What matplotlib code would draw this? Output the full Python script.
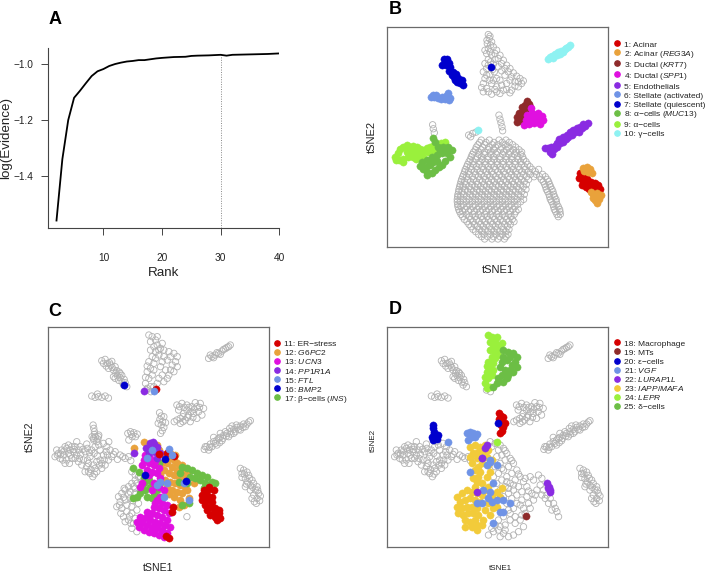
import numpy as np
import matplotlib
matplotlib.use("Agg")
import matplotlib.pyplot as plt
from matplotlib.lines import Line2D

plt.rcParams['font.family'] = ['Liberation Sans', 'DejaVu Sans']
plt.rcParams['mathtext.fontset'] = 'custom'
plt.rcParams['mathtext.rm'] = 'Liberation Sans'
plt.rcParams['mathtext.it'] = 'Liberation Sans:italic'
plt.rcParams['mathtext.bf'] = 'Liberation Sans:bold'

# ---------------- Panel A data ----------------
rank = [2, 3, 4, 5, 6, 7, 8, 9, 10, 11, 12, 13, 14, 15, 16, 17, 18, 19, 20,
        22, 24, 25, 26, 28, 30, 31, 32, 34, 36, 38, 40]
log_evidence = [-1.56, -1.34, -1.20, -1.12, -1.095, -1.068, -1.042, -1.025, -1.017,
                -1.006, -0.999, -0.994, -0.990, -0.988, -0.985, -0.985, -0.982,
                -0.979, -0.977, -0.974, -0.973, -0.970, -0.969, -0.968, -0.966,
                -0.969, -0.966, -0.965, -0.964, -0.963, -0.961]
chosen_rank = 30

# ---------------- Panel B data (tSNE, arbitrary units) ----------------
b_acinar = [(690, 520), (700, 528), (688, 535), (698, 545), (710, 550), (722, 545), (735, 550),
            (745, 556), (750, 566), (742, 576), (730, 578), (718, 568), (708, 560), (700, 516),
            (725, 560), (738, 565), (695, 555), (712, 538)]
b_acinar_reg3a = [(698, 503), (710, 502), (720, 508), (726, 520), (714, 516), (703, 512), (728, 582),
                  (740, 580), (752, 586), (746, 596), (735, 600), (740, 610), (728, 594), (722, 575)]
b_ductal_krt7 = [(530, 302), (538, 312), (525, 315), (515, 322), (522, 333), (508, 340), (502, 352),
                 (500, 365), (512, 350), (528, 328), (540, 322), (515, 362)]
b_ductal_spp1 = [(542, 325), (545, 340), (555, 345), (565, 340), (575, 348), (580, 360), (567, 365),
                 (552, 370), (537, 373), (522, 375), (527, 360), (540, 356), (556, 357), (570, 372),
                 (532, 345), (562, 352)]
b_endothelial = [(715, 370), (705, 378), (695, 385), (688, 395), (675, 396), (665, 404), (655, 410),
                 (648, 418), (638, 410), (628, 418), (622, 430), (614, 438), (604, 440), (594, 444),
                 (584, 443), (600, 455), (606, 462), (620, 440), (640, 425), (660, 396), (680, 384),
                 (700, 372), (630, 428), (650, 405), (670, 390), (690, 380), (612, 448)]
b_stellate_act = [(242, 290), (252, 292), (264, 293), (276, 292), (288, 287), (294, 279), (300, 294),
                  (286, 297), (272, 297), (258, 286), (248, 284), (296, 300)]
b_stellate_qui = [(282, 177), (292, 176), (276, 193), (289, 195), (300, 200), (296, 213), (309, 214),
                  (319, 220), (311, 230), (324, 234), (335, 240), (321, 246), (340, 255), (330, 250),
                  (285, 186), (305, 225), (298, 188), (315, 240), (422, 200)]
b_alpha_muc13 = [(250, 415), (256, 425), (265, 440), (280, 440), (295, 440), (306, 450), (291, 460),
                 (276, 460), (261, 466), (246, 472), (231, 480), (216, 487), (210, 497), (220, 506),
                 (231, 515), (245, 520), (255, 511), (266, 501), (276, 494), (286, 482), (300, 470),
                 (240, 496), (250, 486), (232, 525), (262, 482), (228, 500), (270, 452), (285, 450)]
b_alpha = [(135, 470), (145, 460), (150, 447), (160, 440), (170, 436), (180, 440), (190, 437),
           (200, 441), (210, 446), (220, 450), (230, 445), (240, 440), (250, 438), (260, 432),
           (272, 430), (284, 426), (146, 480), (160, 476), (175, 471), (190, 470), (205, 466),
           (220, 470), (170, 455), (185, 455), (200, 456), (215, 457), (235, 455), (250, 450),
           (138, 480), (158, 487), (198, 478)]
b_gamma = [(595, 176), (605, 168), (614, 160), (624, 156), (634, 151), (644, 146), (653, 140),
           (660, 135), (610, 173), (630, 160), (648, 142), (620, 165), (600, 170), (640, 155),
           (383, 390)]
b_gray_top = [(415, 103), (418, 115), (425, 125), (412, 130), (430, 140), (415, 145), (440, 150),
              (410, 160), (425, 165), (450, 165), (415, 178), (435, 178), (460, 180), (405, 190),
              (430, 192), (470, 195), (445, 200), (410, 205), (480, 205), (455, 212), (400, 215),
              (490, 218), (420, 222), (465, 225), (500, 228), (405, 235), (440, 235), (510, 235),
              (480, 240), (400, 250), (425, 250), (515, 250), (455, 255), (495, 258), (410, 265),
              (435, 268), (470, 268), (400, 275), (485, 270), (450, 280), (425, 282), (505, 245),
              (520, 242), (395, 262), (428, 208), (418, 240),
              (420, 108), (411, 120), (422, 135), (405, 150), (420, 155), (435, 160), (445, 175),
              (455, 190), (422, 185), (465, 205), (415, 195), (475, 215), (433, 215), (410, 225),
              (485, 230), (450, 240), (495, 245), (430, 240), (470, 250), (440, 260), (505, 260),
              (460, 270), (415, 275), (480, 278), (440, 275)]
b_gray_small = [(248, 374), (250, 386), (253, 398), (447, 345), (450, 357), (453, 368), (456, 380),
                (458, 392), (356, 405), (368, 400), (378, 396), (362, 410)]
b_gray_blob_rows = [
    (420, [394, 418, 447, 468]),
    (427, [389, 408, 432, 457, 478]),
    (434, [384, 404, 427, 444, 466, 488]),
    (441, [379, 398, 417, 436, 455, 476, 497]),
    (449, [376, 393, 415, 431, 452, 469, 490, 507]),
    (456, [371, 385, 404, 421, 442, 461, 480, 499, 515]),
    (463, [367, 387, 403, 423, 439, 459, 477, 493, 513]),
    (470, [364, 382, 395, 415, 431, 450, 468, 486, 503, 518]),
    (478, [361, 377, 397, 413, 433, 449, 469, 485, 505, 521]),
    (485, [357, 369, 390, 405, 424, 441, 460, 477, 496, 512, 528]),
    (493, [353, 371, 387, 407, 423, 443, 459, 479, 495, 515, 533]),
    (500, [350, 362, 380, 396, 415, 432, 451, 468, 487, 505, 524, 540]),
    (508, [346, 365, 381, 401, 417, 437, 453, 473, 489, 509, 525, 547, 566]),
    (515, [344, 356, 373, 390, 409, 425, 444, 461, 481, 497, 516, 535, 556]),
    (523, [341, 357, 377, 393, 413, 429, 449, 465, 485, 501, 521, 541, 559, 578]),
    (530, [338, 350, 367, 385, 402, 420, 437, 456, 474, 493, 510, 530, 552, 569, 586]),
    (538, [335, 354, 370, 390, 406, 426, 442, 462, 478, 498, 514, 536, 574, 592]),
    (545, [333, 344, 362, 379, 397, 415, 432, 451, 468, 487, 504, 523, 580, 596]),
    (553, [331, 347, 367, 383, 403, 419, 439, 455, 475, 491, 511, 529, 584, 599]),
    (560, [329, 339, 357, 375, 392, 410, 428, 446, 463, 482, 500, 520, 587, 602]),
    (568, [327, 346, 362, 382, 398, 418, 434, 454, 470, 490, 506, 528, 589, 606]),
    (575, [326, 336, 353, 371, 389, 406, 424, 442, 460, 478, 496, 515, 593, 609]),
    (583, [324, 341, 361, 377, 397, 413, 433, 449, 469, 485, 505, 523, 597, 611]),
    (590, [323, 332, 350, 368, 386, 404, 421, 440, 457, 476, 493, 512, 599, 614]),
    (598, [322, 341, 357, 377, 393, 413, 429, 449, 465, 485, 501, 521, 601, 618]),
    (605, [322, 331, 349, 367, 385, 403, 421, 439, 457, 475, 493, 512, 605, 619]),
    (613, [323, 339, 359, 375, 395, 411, 431, 447, 467, 483, 503, 609, 621]),
    (620, [324, 333, 351, 369, 387, 405, 423, 441, 459, 477, 495, 611, 625]),
    (628, [326, 345, 361, 381, 397, 417, 433, 453, 469, 489, 505, 613, 629]),
    (635, [329, 338, 356, 373, 390, 409, 426, 445, 462, 481, 498, 617, 630]),
    (643, [333, 349, 369, 385, 405, 421, 441, 457, 477, 493, 621, 631]),
    (650, [338, 358, 375, 394, 411, 429, 447, 465, 483, 625]),
    (658, [343, 363, 379, 399, 415, 435, 451, 471, 487]),
    (665, [351, 369, 387, 405, 422, 441, 459, 477, 492]),
    (673, [357, 373, 393, 409, 429, 445, 465, 481]),
    (680, [363, 382, 399, 418, 436, 455, 472]),
    (688, [369, 389, 405, 425, 441, 461, 477]),
    (695, [377, 396, 414, 432, 450, 468]),
    (703, [386, 402, 422, 438, 458, 474]),
    (710, [395, 413, 431, 450, 468]),
    (717, [404, 426, 444, 463]),
]

# ---------------- Panels C/D shared embedding (tSNE, arbitrary units) ----------------
cd_gray_topright = [(625, 205), (635, 200), (645, 195), (655, 190), (665, 183), (675, 176), (685, 170),
                    (690, 165), (630, 195), (650, 188), (670, 178), (640, 203), (660, 193), (680, 172)]
cd_gray_topleft = [(305, 212), (315, 208), (322, 220), (332, 225), (325, 235), (340, 240), (347, 250),
                   (352, 257), (360, 263), (356, 271), (366, 276), (370, 285), (380, 290), (335, 214),
                   (345, 230), (360, 250), (318, 228), (372, 268), (340, 260), (440, 300), (452, 305),
                   (310, 220), (328, 218), (336, 232), (350, 242), (357, 246), (365, 256), (375, 278),
                   (345, 265)]
cd_gray_small = [(275, 318), (285, 322), (295, 320), (305, 322), (315, 318), (325, 324), (292, 312)]
cd_gray_mid = [(530, 345), (545, 340), (560, 345), (575, 350), (590, 350), (600, 340), (610, 355),
               (595, 365), (580, 370), (565, 375), (550, 370), (540, 385), (555, 390), (570, 395),
               (590, 385), (605, 375), (535, 360), (540, 400), (522, 395), (560, 360), (585, 338),
               (572, 365), (538, 350), (552, 352), (566, 352), (582, 358), (598, 352), (548, 380),
               (562, 382), (578, 382), (548, 395), (530, 390)]
cd_gray_band = [(620, 470), (630, 462), (640, 455), (650, 450), (660, 442), (670, 436), (680, 430),
                (690, 425), (700, 418), (710, 412), (720, 408), (730, 402), (745, 396), (640, 442),
                (660, 430), (685, 440), (700, 430), (720, 420), (735, 410), (625, 480), (650, 465),
                (675, 425), (695, 408), (612, 478), (740, 402), (665, 452),
                (615, 470), (628, 472), (645, 460), (655, 445), (668, 445), (678, 438), (692, 432),
                (705, 425), (715, 418), (728, 412), (750, 392), (688, 415), (708, 405), (635, 470),
                (658, 458)]
cd_gray_rightbottom = [(720, 535), (730, 540), (740, 546), (725, 550), (745, 556), (735, 566), (742, 576),
                       (750, 586), (760, 580), (770, 590), (765, 600), (775, 610), (760, 615), (770, 625),
                       (778, 632), (750, 600), (725, 562), (735, 590), (755, 570), (768, 640),
                       (732, 552), (748, 565), (738, 582), (757, 592), (772, 600), (780, 618), (755, 625),
                       (762, 635)]
cd_gray_left = [(165, 500), (175, 490), (185, 480), (195, 470), (205, 465), (215, 470), (190, 495),
                (205, 490), (220, 485), (230, 495), (215, 505), (200, 510), (235, 515), (250, 510),
                (245, 525), (260, 530), (255, 545), (270, 550), (265, 520), (280, 525), (290, 515),
                (300, 510), (310, 495), (300, 480), (285, 470), (275, 480), (290, 455), (280, 445),
                (295, 440), (310, 460), (320, 470), (330, 480), (335, 500), (325, 510), (315, 525),
                (345, 485), (360, 495), (375, 505), (385, 500), (240, 470), (255, 485), (270, 500),
                (225, 470), (278, 560), (290, 545), (305, 535), (180, 505), (195, 520), (170, 480),
                (230, 455), (260, 462),
                (172, 495), (182, 492), (192, 483), (200, 475), (210, 480), (222, 478), (212, 495),
                (225, 505), (238, 505), (242, 492), (248, 478), (262, 475), (268, 488), (282, 490),
                (292, 498), (305, 520), (322, 495), (340, 493), (352, 508), (368, 500), (392, 512),
                (272, 538), (262, 510), (285, 535), (298, 525), (312, 510), (208, 520), (188, 510),
                (235, 480), (296, 465), (318, 485), (265, 545), (283, 552)]
cd_lepr = [(446, 135), (456, 140), (466, 150), (451, 155), (471, 165), (461, 170), (481, 175),
           (451, 180), (466, 185), (476, 195), (456, 200), (446, 215), (461, 220), (451, 235),
           (441, 245), (456, 255), (446, 265), (436, 280), (441, 295), (451, 290), (471, 140),
           (486, 160), (476, 180), (461, 240), (466, 205), (441, 228), (436, 262)]
cd_delta = [(491, 180), (506, 185), (521, 190), (531, 200), (526, 215), (516, 225), (501, 210),
            (491, 200), (511, 240), (496, 240), (486, 255), (476, 265), (471, 280), (461, 290),
            (481, 230), (521, 245), (501, 265), (491, 275), (531, 230), (511, 200), (506, 255),
            (486, 215)]
cd_macrophage = [(478, 368), (483, 378), (479, 388), (487, 395), (483, 405), (491, 412), (486, 422),
                 (481, 430), (491, 380), (496, 398)]
cd_epsilon = [(279, 405), (281, 415), (283, 425), (276, 440), (286, 440), (293, 447), (281, 450),
              (296, 435), (283, 433), (474, 400)]
cd_vgf_top = [(383, 430), (391, 425), (401, 428), (411, 432), (396, 440), (406, 440), (386, 450),
              (394, 433), (326, 455)]

# Panel C central groups
c_er_stress = [(500, 490), (520, 497), (475, 492), (518, 650), (515, 665), (505, 745), (497, 738),
               (467, 298), (610, 600), (625, 597), (640, 600), (605, 615), (620, 615), (635, 620),
               (605, 630), (620, 630), (635, 635), (615, 645), (630, 650), (645, 655), (620, 660),
               (640, 665), (655, 670), (630, 675), (645, 680), (660, 685), (650, 690), (625, 590),
               (655, 660)]
c_g6pc2 = [(490, 495), (505, 505), (520, 510), (530, 520), (545, 525), (500, 520), (515, 530),
           (530, 540), (545, 545), (560, 550), (490, 540), (505, 550), (520, 555), (535, 560),
           (550, 565), (495, 570), (510, 575), (525, 580), (540, 585), (555, 590), (500, 590),
           (515, 600), (530, 605), (545, 610), (520, 620), (540, 630), (550, 645), (565, 625),
           (475, 480), (470, 465), (402, 475), (430, 455), (445, 482), (470, 620), (580, 578),
           (560, 600), (485, 520), (480, 555), (510, 490), (525, 495), (505, 612), (535, 650)]
c_ucn3 = [(435, 495), (450, 505), (465, 512), (445, 520), (460, 525), (475, 535), (440, 540),
          (455, 545), (470, 550), (480, 565), (425, 525), (420, 590), (460, 580), (475, 590),
          (490, 600), (455, 600), (470, 630), (485, 640), (500, 645), (460, 650), (475, 655),
          (490, 660), (505, 670), (440, 665), (455, 670), (470, 675), (485, 680), (500, 690),
          (420, 680), (435, 685), (450, 690), (465, 695), (480, 700), (495, 705), (510, 710),
          (410, 695), (425, 700), (440, 705), (455, 710), (470, 715), (485, 720), (500, 730),
          (445, 725), (460, 730), (475, 735), (490, 740), (415, 710), (430, 720), (450, 675),
          (465, 640), (480, 620), (430, 510), (445, 555), (425, 580)]
c_pp1r1a = [(450, 460), (460, 462), (470, 470), (455, 475), (465, 485), (480, 490), (445, 490),
            (402, 490), (437, 475), (470, 505), (458, 455), (432, 302)]
c_ftl = [(455, 480), (505, 478), (500, 580), (470, 585), (480, 575), (550, 580), (565, 630),
         (440, 505), (515, 495), (490, 620), (462, 302)]
c_bmp2 = [(558, 572), (435, 555), (493, 506), (373, 285)]
c_ins = [(400, 535), (415, 545), (430, 560), (445, 570), (430, 580), (450, 590), (435, 600),
         (420, 610), (440, 620), (410, 620), (400, 625), (460, 615), (455, 625), (470, 600),
         (545, 530), (560, 535), (575, 540), (590, 550), (605, 555), (620, 560), (635, 575),
         (645, 580), (600, 570), (615, 580), (625, 585), (540, 550), (570, 560), (585, 565),
         (560, 580), (610, 595), (535, 575), (545, 645), (565, 640), (480, 580), (475, 520)]
c_gray_center = [(355, 620), (365, 610), (375, 600), (385, 590), (395, 580), (405, 570), (415, 560),
                 (360, 635), (375, 630), (390, 625), (380, 645), (395, 650), (365, 655), (380, 665),
                 (395, 670), (370, 680), (385, 690), (400, 700), (395, 715), (410, 725), (410, 660),
                 (415, 640), (420, 600), (425, 575), (405, 595), (405, 610), (350, 650), (390, 605),
                 (410, 580), (420, 560), (395, 545), (405, 555), (560, 680), (372, 595), (362, 670),
                 (358, 645), (370, 622), (385, 612), (398, 632), (388, 678), (405, 685), (375, 695),
                 (392, 700), (400, 590)]

# Panel D central groups
d_mts = [(559, 678)]
d_vgf = [(426, 505), (451, 515), (441, 525), (391, 545), (431, 600), (461, 580), (446, 625),
         (456, 635), (426, 640), (471, 630), (491, 630), (511, 640), (481, 665), (491, 665),
         (461, 700), (451, 510), (471, 525), (411, 640), (451, 605)]
d_lurap1l = [(441, 465), (436, 475), (426, 505), (411, 605), (621, 580), (626, 590), (631, 600),
             (629, 605), (624, 595)]
d_iapp_mafa = [(391, 470), (406, 465), (421, 470), (436, 465), (446, 480), (431, 485), (416, 485),
               (401, 490), (391, 500), (411, 505), (426, 500), (441, 500), (456, 510), (426, 520),
               (446, 525), (406, 540), (421, 545), (416, 560), (401, 565), (411, 575), (426, 580),
               (406, 590), (351, 620), (366, 610), (381, 600), (396, 605), (411, 610), (426, 615),
               (361, 635), (376, 630), (391, 625), (406, 630), (421, 635), (351, 650), (366, 655),
               (381, 650), (396, 650), (411, 655), (356, 670), (371, 675), (386, 670), (401, 670),
               (416, 675), (376, 690), (391, 695), (406, 690), (396, 710), (411, 705), (411, 720),
               (441, 600), (456, 615), (471, 605), (486, 595), (481, 620), (466, 630), (446, 640),
               (461, 655), (436, 660), (451, 675), (471, 650), (431, 690), (426, 705), (376, 710),
               (441, 560), (451, 545), (446, 590), (416, 530), (396, 520)]
d_lepr_extra = [(471, 455)]
d_gray_center = [(451, 455), (466, 460), (481, 465), (456, 470), (476, 480), (491, 475), (501, 490),
                 (486, 495), (471, 500), (511, 505), (496, 510), (481, 520), (466, 530), (521, 520),
                 (506, 530), (491, 540), (476, 550), (461, 560), (531, 540), (516, 550), (501, 560),
                 (486, 570), (471, 580), (541, 560), (526, 570), (511, 580), (496, 590), (481, 600),
                 (551, 575), (536, 590), (521, 600), (506, 610), (491, 620), (561, 590), (546, 605),
                 (531, 615), (516, 625), (501, 640), (571, 560), (581, 570), (596, 555), (606, 565),
                 (601, 585), (611, 600), (621, 615), (631, 625), (641, 640), (646, 655), (651, 665),
                 (656, 680), (636, 660), (626, 640), (616, 625), (606, 615), (591, 600), (576, 610),
                 (561, 620), (546, 630), (531, 640), (521, 655), (506, 660), (491, 680), (476, 690),
                 (466, 705), (476, 720), (491, 730), (506, 740), (521, 735), (536, 725), (551, 710),
                 (541, 690), (526, 680), (511, 690), (496, 705), (481, 740), (456, 715), (446, 735),
                 (551, 655), (566, 640), (581, 630), (571, 655), (556, 670),
                 (496, 482), (516, 512), (536, 552), (556, 565), (521, 585), (566, 603), (586, 615),
                 (541, 645), (511, 670), (481, 710), (461, 725), (496, 720), (526, 700), (546, 675),
                 (506, 595), (486, 535), (501, 575)]

# ---------------- legend labels / colours ----------------
b_labels = ["1: Acinar", "2: Acinar ($\\mathit{REG3A}$)", "3: Ductal ($\\mathit{KRT7}$)",
            "4: Ductal ($\\mathit{SPP1}$)", "5: Endothelials", "6: Stellate (activated)",
            "7: Stellate (quiescent)", "8: \u03b1\u2212cells ($\\mathit{MUC13}$)",
            "9: \u03b1\u2212cells", "10: \u03b3\u2212cells"]
c_labels = ["11: ER\u2212stress", "12: $\\mathit{G6PC2}$", "13: $\\mathit{UCN3}$",
            "14: $\\mathit{PP1R1A}$", "15: $\\mathit{FTL}$", "16: $\\mathit{BMP2}$",
            "17: \u03b2\u2212cells ($\\mathit{INS}$)"]
d_labels = ["18: Macrophage", "19: MTs", "20: \u03b5\u2212cells", "21: $\\mathit{VGF}$",
            "22: $\\mathit{LURAP1L}$", "23: $\\mathit{IAPP/MAFA}$", "24: $\\mathit{LEPR}$",
            "25: \u03b4\u2212cells"]

RED = "#D60000"
ORANGE = "#E9A23B"
MAROON = "#8E2A2A"
MAGENTA = "#E010E0"
PURPLE = "#8A2BE2"
CORNFLOWER = "#6F93E6"
BLUE = "#0000CD"
GREEN = "#6CBE45"
LIGHTGREEN = "#9AF03C"
CYAN = "#8EF2F2"
YELLOW = "#F2CB3A"
GRAY = "#B2B2B2"

b_colors = [RED, ORANGE, MAROON, MAGENTA, PURPLE, CORNFLOWER, BLUE, GREEN, LIGHTGREEN, CYAN]
c_colors = [RED, ORANGE, MAGENTA, PURPLE, CORNFLOWER, BLUE, GREEN]
d_colors = [RED, MAROON, BLUE, CORNFLOWER, PURPLE, YELLOW, LIGHTGREEN, GREEN]

# ---------------- drawing ----------------
W, H = 705, 573
fig = plt.figure(figsize=(W / 100, H / 100), dpi=100)


def frac_axes(x0, y0, x1, y1):
    return fig.add_axes([x0 / W, 1 - y1 / H, (x1 - x0) / W, (y1 - y0) / H])


def xy(lst):
    a = np.array(lst, dtype=float).reshape(-1, 2)
    return a[:, 0], a[:, 1]


def draw_gray(ax, lst):
    x, y = xy(lst)
    ax.scatter(x, y, s=21, facecolors='none', edgecolors=GRAY, linewidths=0.6, zorder=2)


def draw_col(ax, lst, color):
    x, y = xy(lst)
    ax.scatter(x, y, s=27, c=color, linewidths=0.3, edgecolors=color, zorder=3)


def tsne_frame(ax, xlim, ylim):
    ax.set_xlim(*xlim)
    ax.set_ylim(*ylim)
    ax.set_xticks([])
    ax.set_yticks([])
    for sp in ax.spines.values():
        sp.set_color('#6a6a6a')
        sp.set_linewidth(0.9)


def add_legend(ax, labels, colors, x_anchor, y_anchor):
    handles = [Line2D([], [], marker='o', linestyle='none', markersize=3.8,
                      markerfacecolor=c, markeredgecolor=c) for c in colors]
    ax.legend(handles, labels, loc='upper left', bbox_to_anchor=(x_anchor, y_anchor),
              frameon=False, fontsize=6.0, handlelength=0.8, handleheight=1.2,
              handletextpad=0.45, labelspacing=0.0, borderpad=0.0, borderaxespad=0.0,
              labelcolor='#222222')


# ----- Panel A -----
axA = frac_axes(47.7, 47.7, 279.3, 227.7)
axA.plot(rank, log_evidence, color='black', lw=1.3, zorder=3)
y_at_chosen = log_evidence[rank.index(chosen_rank)]
axA.set_xlim(0.5, 40)
axA.set_ylim(-1.5857, -0.9405)
axA.vlines(chosen_rank, -1.5857, y_at_chosen, colors='#888888', linestyles=(0, (1, 1.5)), lw=0.7)
axA.spines['top'].set_visible(False)
axA.spines['right'].set_visible(False)
for sp in ('left', 'bottom'):
    axA.spines[sp].set_color('#444444')
    axA.spines[sp].set_linewidth(0.8)
axA.set_xticks([10, 20, 30, 40])
axA.set_xticklabels(['10', '20', '30', '40'])
axA.set_yticks([-1.4, -1.2, -1.0])
axA.set_yticklabels(['\u22121.4', '\u22121.2', '\u22121.0'])
axA.tick_params(axis='x', direction='out', length=5, width=0.7, color='#444444',
                labelsize=7.3, pad=13.5, labelcolor='#222222')
axA.tick_params(axis='y', direction='out', length=5, width=0.7, color='#444444',
                labelsize=7.3, pad=5.5, labelcolor='#222222')
axA.set_xlabel('Rank', fontsize=9.6, labelpad=2.5, color='#222222')
axA.set_ylabel('log(Evidence)', fontsize=9.6, labelpad=1.0, color='#222222')

# ----- Panel B -----
axB = frac_axes(387.3, 26.9, 608.3, 247.3)
b_gray_blob = [(x, y) for y, xs in b_gray_blob_rows for x in xs]
draw_gray(axB, b_gray_top)
draw_gray(axB, b_gray_small)
draw_gray(axB, b_gray_blob)
b_groups = [b_acinar, b_acinar_reg3a, b_ductal_krt7, b_ductal_spp1, b_endothelial,
            b_stellate_act, b_stellate_qui, b_alpha_muc13, b_alpha, b_gamma]
draw_order_b = [8, 7, 0, 1, 2, 3, 4, 5, 6, 9]
for i in draw_order_b:
    draw_col(axB, b_groups[i], b_colors[i])
tsne_frame(axB, (112, 775), (742, 80))
axB.text(0.5, -0.103, 'tSNE1', transform=axB.transAxes, ha='center', va='center',
         fontsize=8.0, color='#222222')
axB.text(-0.071, 0.5, 'tSNE2', transform=axB.transAxes, ha='center', va='center',
         rotation=90, fontsize=8.0, color='#222222')
add_legend(axB, b_labels, b_colors, 1.023, 0.943)

# ----- shared islands for C / D -----
cd_common_gray = (cd_gray_topright + cd_gray_topleft + cd_gray_small + cd_gray_mid +
                  cd_gray_band + cd_gray_rightbottom + cd_gray_left)

# ----- Panel C -----
axC = frac_axes(47.7, 326.7, 268.7, 546.7)
draw_gray(axC, cd_common_gray)
draw_gray(axC, cd_lepr + cd_delta + cd_macrophage + cd_epsilon + cd_vgf_top)
draw_gray(axC, c_gray_center)
c_groups = [c_er_stress, c_g6pc2, c_ucn3, c_pp1r1a, c_ftl, c_bmp2, c_ins]
for i in [1, 6, 2, 3, 0, 4, 5]:
    draw_col(axC, c_groups[i], c_colors[i])
tsne_frame(axC, (143, 805), (770, 110))
axC.text(0.5, -0.097, 'tSNE1', transform=axC.transAxes, ha='center', va='center',
         fontsize=7.6, color='#222222')
axC.text(-0.080, 0.5, 'tSNE2', transform=axC.transAxes, ha='center', va='center',
         rotation=90, fontsize=7.6, color='#222222')
add_legend(axC, c_labels, c_colors, 1.021, 0.943)

# ----- Panel D -----
axD = frac_axes(387.3, 326.7, 608.3, 546.7)
draw_gray(axD, cd_common_gray)
draw_gray(axD, d_gray_center)
d_groups = [cd_macrophage, d_mts, cd_epsilon, cd_vgf_top + d_vgf, d_lurap1l, d_iapp_mafa,
            cd_lepr + d_lepr_extra, cd_delta]
for i in [5, 3, 4, 6, 7, 0, 1, 2]:
    draw_col(axD, d_groups[i], d_colors[i])
tsne_frame(axD, (143, 805), (770, 110))
axD.text(0.51, -0.097, 'tSNE1', transform=axD.transAxes, ha='center', va='center',
         fontsize=5.8, color='#222222')
axD.text(-0.065, 0.485, 'tSNE2', transform=axD.transAxes, ha='center', va='center',
         rotation=90, fontsize=5.8, color='#222222')
add_legend(axD, d_labels, d_colors, 1.023, 0.945)

# ----- panel letters -----
for letter, px, py in [('A', 48.3, 24.0), ('B', 388.3, 14.0), ('C', 48.3, 315.7), ('D', 388.3, 314.0)]:
    fig.text(px / W, 1 - py / H, letter, fontsize=13, fontweight='bold', ha='left',
             va='baseline', color='black')

fig.savefig('out.png', dpi=100)
